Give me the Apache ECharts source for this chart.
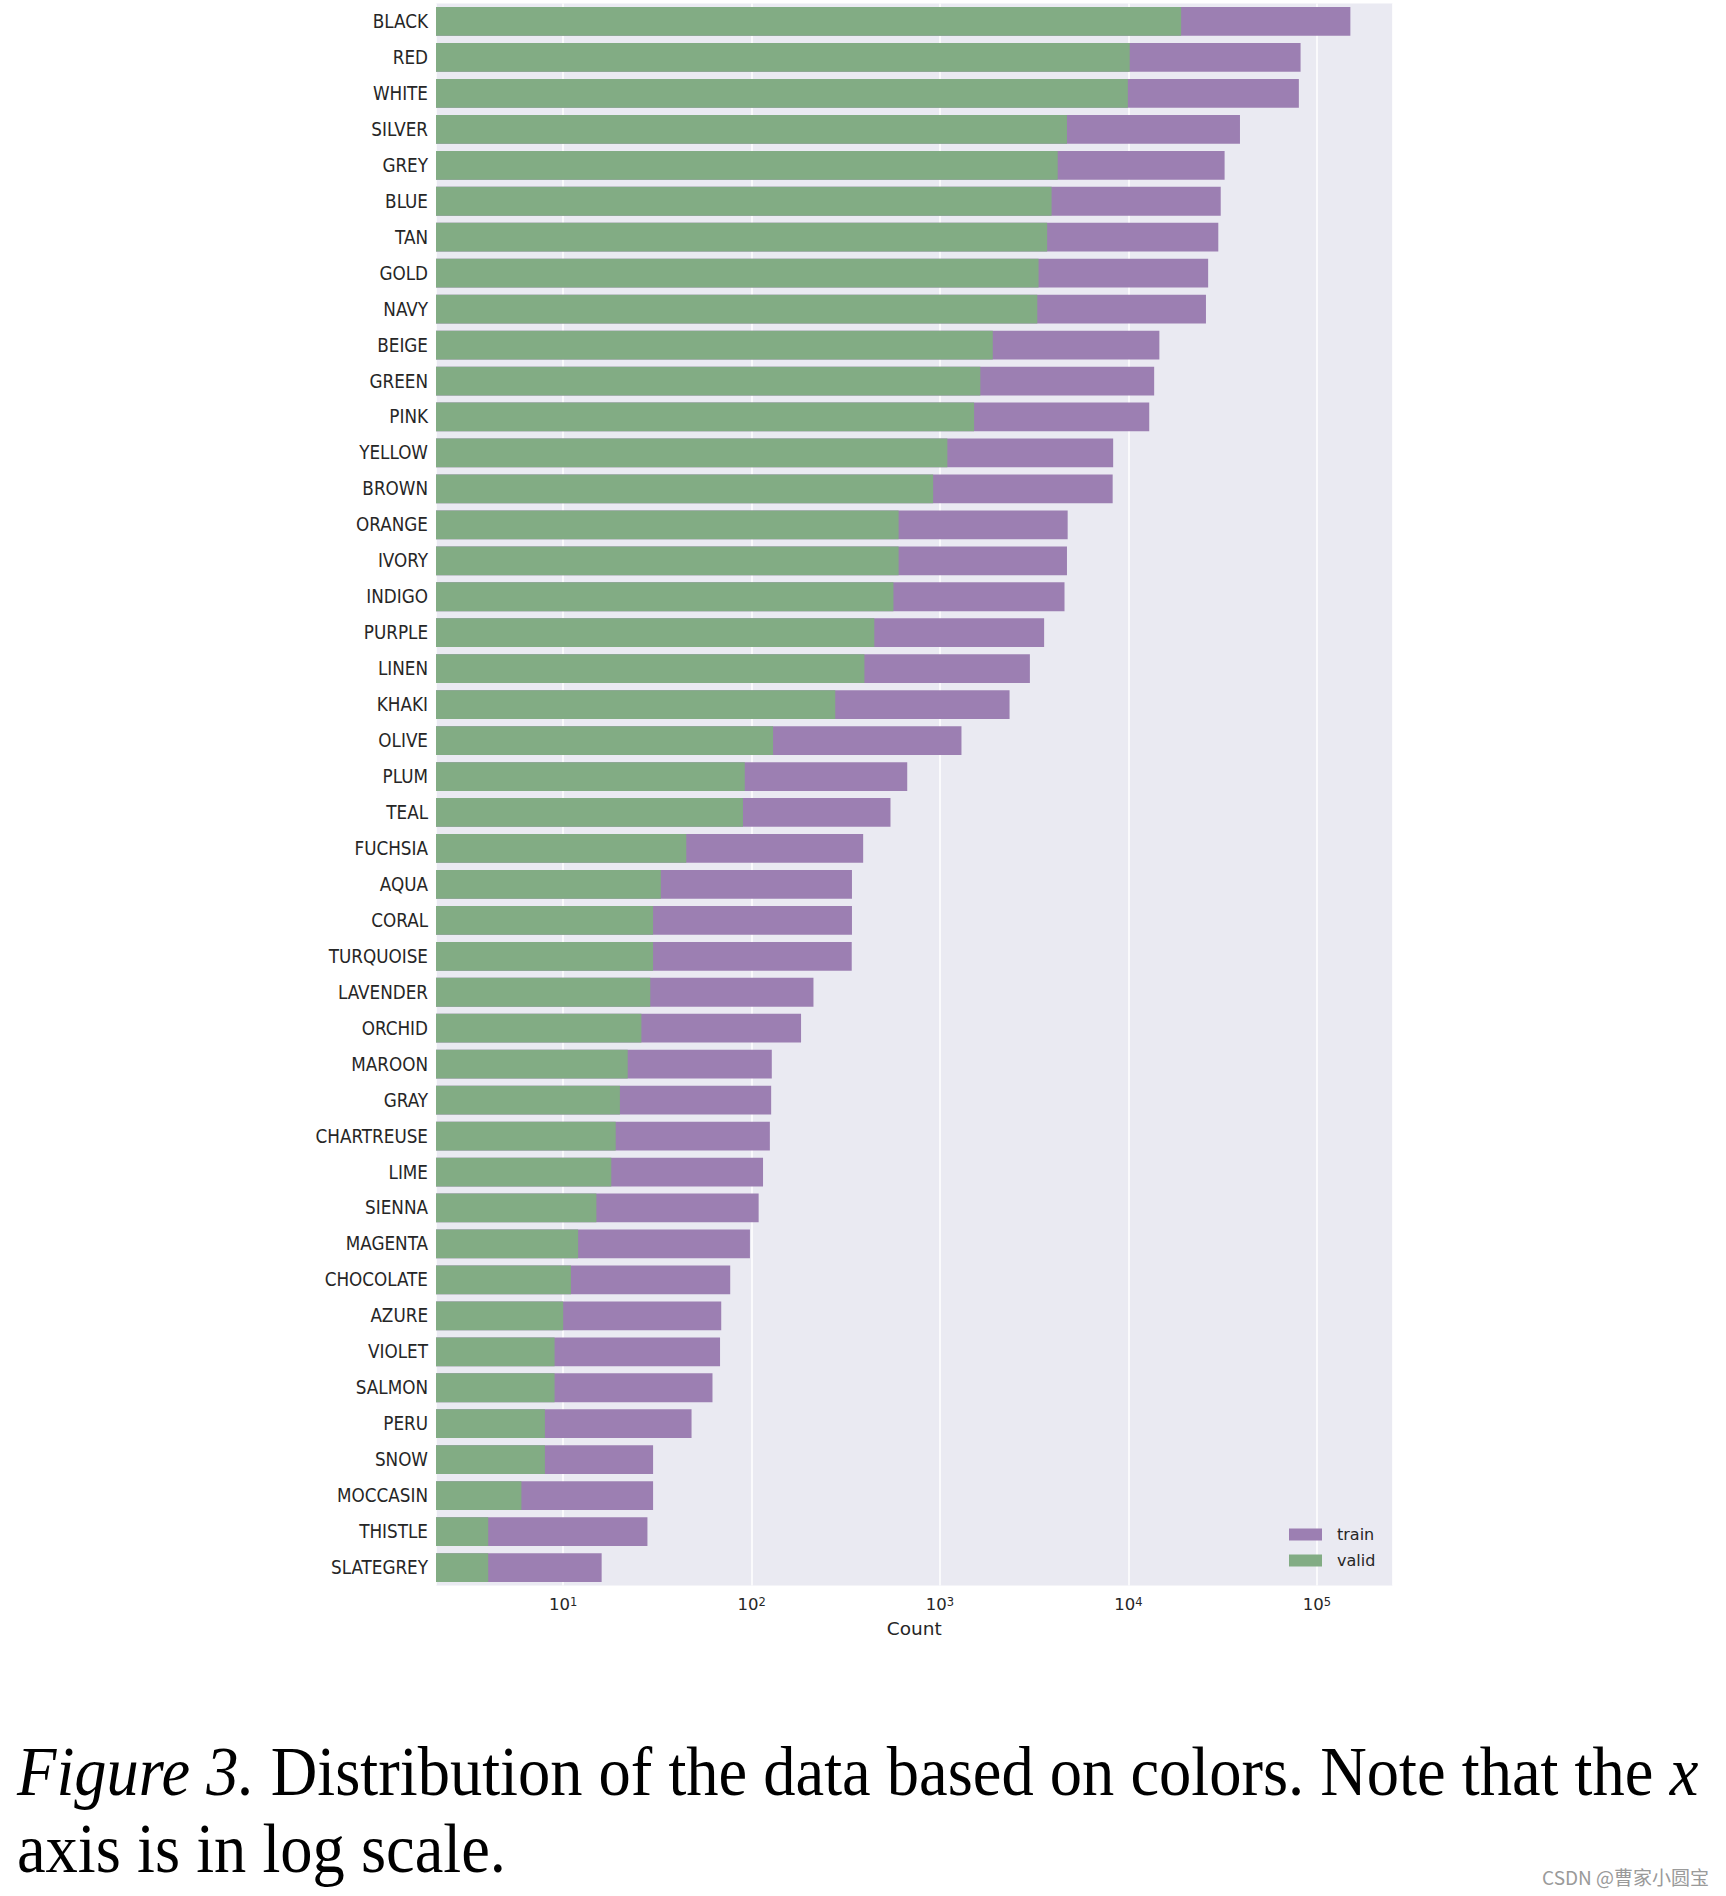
<!DOCTYPE html>
<html>
<head>
<meta charset="utf-8">
<script src="https://cdn.jsdelivr.net/npm/echarts@6/dist/echarts.min.js"></script>
<style>
html,body{margin:0;padding:0;background:#fff;}
#chart{width:1726px;height:1896px;}
</style>
</head>
<body>
<div id="chart"></div>
<script>
const categories = ['BLACK','RED','WHITE','SILVER','GREY','BLUE','TAN','GOLD','NAVY','BEIGE','GREEN','PINK','YELLOW','BROWN','ORANGE','IVORY','INDIGO','PURPLE','LINEN','KHAKI','OLIVE','PLUM','TEAL','FUCHSIA','AQUA','CORAL','TURQUOISE','LAVENDER','ORCHID','MAROON','GRAY','CHARTREUSE','LIME','SIENNA','MAGENTA','CHOCOLATE','AZURE','VIOLET','SALMON','PERU','SNOW','MOCCASIN','THISTLE','SLATEGREY'];
const trainCounts = [150700, 82000, 80300, 39100, 32400, 30900, 30000, 26500, 25800, 14600, 13700, 12900, 8300, 8250, 4760, 4720, 4580, 3570, 3000, 2340, 1300, 670, 546, 391, 341, 341, 340, 213, 183, 128, 127, 125, 115, 109, 98, 77, 69, 68, 62, 48, 30, 30, 28, 16];
const validCounts = [19050, 10160, 9930, 4720, 4215, 3910, 3705, 3335, 3284, 1906, 1637, 1517, 1094, 920, 603, 603, 566, 448, 397, 278, 130, 92, 90, 45, 33, 30, 30, 29, 26, 22, 20, 19, 18, 15, 12, 11, 10, 9, 9, 8, 8, 6, 4, 4];
const seriesNames = ['train', 'valid'];
const axisMin = 2.113;
const axisMax = 252500;
const xAxisTitle = 'Count';
const captionLine1 = '{i|Figure 3.} Distribution of the data based on colors. Note that the {i|x}';
const captionLine2 = 'axis is in log scale.';
const watermark = 'CSDN @曹家小圆宝';

const GREEN = '#82ac84';
const PURPLE = '#9c7fb2';
const TEXT = '#262626';

function fontAvailable(name) {
  const c = document.createElement('canvas').getContext('2d');
  const s = 'BLACK CHARTREUSE 0123';
  let diff = false;
  ['monospace', 'serif', 'sans-serif'].forEach(function (fb) {
    c.font = '40px ' + fb;
    const w0 = c.measureText(s).width;
    c.font = '40px "' + name + '", ' + fb;
    const w1 = c.measureText(s).width;
    if (Math.abs(w0 - w1) > 0.5) diff = true;
  });
  return diff;
}
let catFont = 'DejaVu Sans', catSize = 17;
if (fontAvailable('Liberation Sans Narrow')) { catFont = 'Liberation Sans Narrow'; catSize = 20.5; }
else if (fontAvailable('DejaVu Sans Condensed')) { catFont = 'DejaVu Sans Condensed'; catSize = 18.7; }

const chart = echarts.init(document.getElementById('chart'), null, {renderer: 'svg'});
chart.setOption({
  animation: false,
  backgroundColor: '#ffffff',
  grid: {
    left: 436, right: 333.4, top: 3.5, bottom: 310.5,
    show: true, backgroundColor: '#eaeaf2', borderWidth: 0,
    containLabel: false
  },
  legend: {
    orient: 'vertical',
    left: 1289, top: 1525.5,
    padding: 0,
    itemWidth: 33, itemHeight: 12, itemGap: 8,
    icon: 'rect',
    data: seriesNames,
    textStyle: {fontFamily: 'DejaVu Sans', fontSize: 16, color: TEXT, lineHeight: 18, padding: [0,0,0,10]}
  },
  xAxis: {
    type: 'log',
    logBase: 10,
    min: axisMin,
    max: axisMax,
    name: xAxisTitle,
    nameLocation: 'middle',
    nameGap: 33,
    nameTextStyle: {fontFamily: 'DejaVu Sans', fontSize: 18.5, color: TEXT},
    axisLine: {show: false},
    axisTick: {show: false},
    splitLine: {show: true, lineStyle: {color: '#ffffff', width: 1.5}},
    minorSplitLine: {show: false},
    axisLabel: {
      showMinLabel: false,
      showMaxLabel: false,
      margin: 10,
      formatter: function (v) {
        const e = Math.round(Math.log10(v));
        return '{b|10}{s|' + e + '}';
      },
      rich: {
        b: {fontFamily: 'DejaVu Sans', fontSize: 16.5, lineHeight: 17, color: TEXT},
        s: {fontFamily: 'DejaVu Sans', fontSize: 11.5, lineHeight: 11, color: TEXT, verticalAlign: 'top'}
      }
    }
  },
  yAxis: {
    type: 'category',
    inverse: true,
    data: categories,
    axisLine: {show: false},
    axisTick: {show: false},
    splitLine: {show: false},
    axisLabel: {margin: 8, fontFamily: catFont, fontSize: catSize, color: TEXT, interval: 0}
  },
  series: [
    {
      name: seriesNames[0], type: 'bar', data: trainCounts,
      barWidth: '80%', barGap: '-100%', clip: true,
      itemStyle: {color: PURPLE}
    },
    {
      name: seriesNames[1], type: 'bar', data: validCounts,
      barWidth: '80%', barGap: '-100%', clip: true,
      itemStyle: {color: GREEN}
    }
  ],
  graphic: [
    {
      type: 'text', x: 17, y: 1736, scaleY: 1.07, originX: 0, originY: 0,
      style: {
        text: captionLine1, x: 0, y: 0, verticalAlign: 'top',
        fontFamily: 'Liberation Serif', fontSize: 64.5, fill: '#000',
        rich: {i: {fontFamily: 'Liberation Serif', fontStyle: 'italic', fontSize: 64.5, fill: '#000'}}
      }
    },
    {
      type: 'text', x: 17, y: 1813, scaleY: 1.07, originX: 0, originY: 0,
      style: {text: captionLine2, x: 0, y: 0, verticalAlign: 'top', fontFamily: 'Liberation Serif', fontSize: 64.5, fill: '#000'}
    },
    {
      type: 'text', right: 17, top: 1867,
      style: {text: watermark, fontFamily: 'Noto Sans CJK SC', fontSize: 19, fill: '#9a9a9a'}
    }
  ]
});
</script>
</body>
</html>
